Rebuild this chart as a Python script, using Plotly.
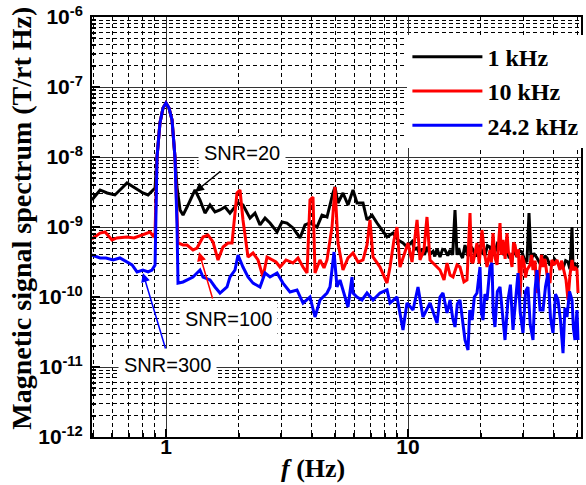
import math
import plotly.graph_objects as go

# ---------------- data ----------------
f_1k = [0.494, 0.534, 0.571, 0.615, 0.658, 0.690, 0.745, 0.803, 0.843, 0.884, 0.901,
        0.918, 0.944, 0.972, 1.0, 1.029, 1.059, 1.089, 1.110, 1.143, 1.176, 1.233, 1.318,
        1.382, 1.449, 1.520, 1.594, 1.672, 1.753, 1.838, 1.984, 2.080, 2.224, 2.332, 2.446,
        2.566, 2.690, 2.876, 3.015, 3.162, 3.348, 3.579, 3.753, 3.936, 4.207, 4.412, 4.627,
        4.899, 4.993, 5.137, 5.387, 5.65, 5.926, 6.155, 6.518, 6.770, 7.10, 7.447, 7.810,
        8.190, 8.670, 9.09, 9.535, 9.905,
        10.39, 10.65, 10.90, 11.15, 11.43, 11.7, 11.98, 12.3, 12.69, 12.9, 13.18, 13.56,
        13.9, 14.22, 14.6, 14.92, 15.3, 15.64, 15.94, 16.2, 16.40, 16.8, 17.20, 17.6, 18.04,
        18.3, 18.56, 19.2, 19.84, 20.3, 20.81, 21.3, 21.82, 22.3, 22.88, 23.4, 24.0, 24.8,
        25.65, 26.2, 26.90, 27.5, 28.21, 28.9, 29.58, 30.3, 31.02, 31.62, 32.23, 33.1, 34.13,
        35.1, 36.14, 36.8, 37.54, 38.5, 39.36, 40.3, 41.28, 42.5, 43.71, 44.8, 45.84, 46.7,
        47.61, 48.06, 48.8, 49.44, 50.41]
b_1k = [2.43e-9, 3.38e-9, 3.06e-9, 2.87e-9, 3.61e-9, 4.25e-9, 3.61e-9, 3.06e-9, 2.87e-9,
        3.38e-9, 3.61e-9, 1.0e-8, 3.06e-8, 5.01e-8, 5.91e-8, 5.01e-8, 3.38e-8, 1.0e-8,
        3.73e-9, 1.75e-9, 1.48e-9, 2.06e-9, 3.38e-9, 2.43e-9, 1.58e-9, 2.06e-9, 1.64e-9,
        1.75e-9, 1.93e-9, 1.58e-9, 2.20e-9, 2.06e-9, 1.34e-9, 1.58e-9, 1.07e-9, 1.34e-9,
        1.14e-9, 8.48e-10, 1.18e-9, 1.14e-9, 9.7e-10, 6.97e-10, 1.07e-9, 1.14e-9, 1.0e-9,
        1.48e-9, 1.39e-9, 3.06e-9, 3.73e-9, 2.20e-9, 3.06e-9, 2.06e-9, 3.38e-9, 2.20e-9,
        2.20e-9, 1.26e-9, 1.48e-9, 1.14e-9, 9.06e-10, 7.20e-10, 8.2e-10, 6.52e-10, 5.9e-10,
        5.18e-10,
        6.2e-10, 4.8e-10, 5.0e-10, 4.2e-10, 4.9e-10, 4.0e-10, 5.2e-10, 4.1e-10, 4.5e-10,
        3.8e-10, 4.9e-10, 3.73e-10, 4.8e-10, 4.69e-10, 3.9e-10, 4.69e-10, 4.0e-10, 1.75e-9,
        3.98e-10, 5.0e-10, 4.25e-10, 3.6e-10, 5.53e-10, 4.0e-10, 3.98e-10, 5.2e-10, 4.69e-10,
        3.8e-10, 5.53e-10, 4.2e-10, 3.98e-10, 5.4e-10, 5.18e-10, 3.9e-10, 4.39e-10, 5.8e-10,
        5.53e-10, 4.0e-10, 4.69e-10, 3.6e-10, 3.98e-10, 4.5e-10, 3.73e-10, 4.6e-10, 4.39e-10,
        3.4e-10, 3.16e-10, 1.58e-9, 3.38e-10, 4.2e-10, 3.61e-10, 3.0e-10, 3.16e-10, 3.9e-10,
        3.61e-10, 2.9e-10, 2.87e-10, 3.5e-10, 3.16e-10, 2.7e-10, 2.60e-10, 3.3e-10, 3.16e-10,
        2.5e-10, 1.0e-9, 2.68e-10, 3.1e-10, 2.43e-10, 2.87e-10]

f_10k = [0.494, 0.534, 0.560, 0.598, 0.627, 0.690, 0.738, 0.781, 0.835, 0.859, 0.884,
         0.901, 0.918, 0.944, 0.972, 1.0, 1.029, 1.059, 1.089, 1.121, 1.176, 1.221, 1.293,
         1.343, 1.422, 1.491, 1.564, 1.640, 1.720, 1.804, 1.874, 1.928, 1.965, 2.022, 2.080,
         2.182, 2.289, 2.40, 2.517, 2.615, 2.742, 2.848, 2.959, 3.132, 3.348, 3.512, 3.683,
         3.826, 3.936, 4.050, 4.128, 4.329, 4.497, 4.627, 4.853, 4.993, 5.137, 5.387, 5.65,
         5.926, 6.216, 6.518, 6.770, 6.966, 7.168, 7.662, 8.190, 8.427, 8.75, 9.006, 9.267,
         9.627, 10.0, 10.39, 10.90, 11.21, 11.64, 11.98, 12.33, 12.93, 13.56, 14.09, 14.50,
         14.92, 15.35, 15.94, 16.40, 17.03, 17.53, 18.04, 18.3, 18.56, 18.9, 19.28, 19.7,
         20.22, 20.7, 21.21, 21.82, 22.1, 22.45, 22.9, 23.33, 24.0, 24.3, 24.70, 25.2, 25.65,
         26.0, 26.40, 26.90, 27.3, 27.68, 28.21, 28.6, 29.03, 29.6, 30.16, 30.6, 31.02,
         31.92, 32.4, 32.85, 33.5, 34.13, 35.13, 35.6, 36.14, 36.8, 37.54, 38.62, 39.3, 40.12,
         41.28, 42.47, 43.1, 43.71, 44.98, 45.84, 46.71, 47.61, 48.3, 48.98, 49.93, 50.41]
b_10k = [6.74e-10, 8.2e-10, 8.48e-10, 6.52e-10, 6.97e-10, 7.20e-10, 6.97e-10, 7.44e-10,
         8.2e-10, 8.48e-10, 7.44e-10, 8.2e-10, 1.0e-8, 3.06e-8, 5.01e-8, 5.91e-8, 5.01e-8,
         3.38e-8, 1.0e-8, 5.91e-10, 5.53e-10, 5.53e-10, 4.69e-10, 5.01e-10, 7.20e-10,
         7.69e-10, 6.11e-10, 3.38e-10, 5.18e-10, 5.91e-10, 5.91e-10, 1.48e-9, 3.06e-9,
         3.38e-9, 1.26e-9, 3.73e-10, 4.25e-10, 3.38e-10, 1.93e-10, 3.73e-10, 3.38e-10,
         3.16e-10, 2.68e-10, 3.38e-10, 3.06e-10, 3.61e-10, 2.68e-10, 2.20e-10, 2.43e-9,
         2.68e-9, 2.20e-10, 3.38e-10, 2.6e-10, 3.38e-10, 1.0e-9, 3.73e-9, 5.91e-10,
         2.43e-10, 3.61e-10, 4.25e-10, 3.16e-10, 3.38e-10, 5.53e-10, 1.26e-9, 3.73e-10,
         2.68e-10, 1.58e-10, 2.68e-10, 6.52e-10, 1.0e-9, 2.68e-10, 3.98e-10, 5.91e-10,
         3.16e-10, 1.26e-9, 3.38e-10, 4.69e-10, 1.39e-9, 3.38e-10, 2.87e-10, 2.43e-10,
         1.75e-10, 3.06e-10, 2.06e-10, 1.93e-10, 2.87e-10, 2.68e-10, 1.64e-10, 1.75e-10,
         1.58e-9, 3.2e-10, 3.06e-10, 4.5e-10, 5.91e-10, 3.0e-10, 9.06e-10, 4.2e-10, 2.68e-10,
         4.69e-10, 3.1e-10, 8.2e-10, 3.6e-10, 2.87e-10, 1.14e-9, 4.0e-10, 6.52e-10, 3.5e-10,
         8.2e-10, 4.4e-10, 3.98e-10, 2.68e-10, 6.0e-10, 5.53e-10, 3.73e-10, 4.8e-10, 1.0e-10,
         3.9e-10, 3.16e-10, 1.9e-10, 2.43e-10, 2.87e-10, 4.0e-10, 2.43e-10, 3.3e-10,
         1.14e-10, 3.16e-10, 4.0e-10, 2.68e-10, 3.5e-10, 2.06e-10, 1.58e-10, 3.4e-10,
         2.87e-10, 3.38e-10, 2.43e-10, 3.3e-10, 2.68e-10, 1.75e-10, 9.06e-11, 2.06e-10,
         3.38e-10, 2.4e-10, 2.68e-10, 2.43e-10, 1.14e-10]

f_24k = [0.494, 0.534, 0.565, 0.604, 0.645, 0.690, 0.724, 0.759, 0.803, 0.843, 0.875,
         0.901, 0.918, 0.944, 0.972, 1.0, 1.029, 1.059, 1.089, 1.110, 1.121, 1.176, 1.221,
         1.293, 1.343, 1.382, 1.422, 1.520, 1.594, 1.672, 1.787, 1.838, 1.928, 1.984, 2.080,
         2.182, 2.289, 2.446, 2.566, 2.690, 2.876, 3.044, 3.253, 3.478, 3.683, 3.936, 4.128,
         4.329, 4.627, 4.761, 4.946, 5.089, 5.236, 5.387, 5.65, 5.870, 5.926, 6.155, 6.454,
         6.770, 7.168, 7.662, 8.190, 8.427, 9.006, 9.535, 9.905, 10.49, 11.0, 11.53, 12.33,
         13.18, 13.56, 13.95, 14.50, 14.92, 15.3, 15.64, 16.0, 16.40, 16.8, 17.20, 17.70,
         18.0, 18.39, 18.8, 19.28, 19.84, 20.1, 20.41, 20.8, 21.21, 21.82, 22.24, 22.5, 22.88,
         23.4, 24.0, 24.6, 25.17, 25.89, 26.5, 27.16, 27.8, 28.48, 29.1, 29.87, 30.6, 31.32,
         32.0, 32.85, 33.5, 34.13, 35.13, 36.14, 37.0, 37.89, 38.8, 39.74, 40.7, 41.67, 42.7,
         43.71, 44.5, 45.40, 46.5, 47.61, 48.3, 48.98, 49.93, 50.41]
b_24k = [3.98e-10, 3.61e-10, 3.61e-10, 3.38e-10, 3.61e-10, 3.16e-10, 2.87e-10, 2.28e-10,
         2.43e-10, 2.28e-10, 2.43e-10, 2.87e-10, 1.0e-8, 3.06e-8, 5.01e-8, 5.91e-8, 5.01e-8,
         3.38e-8, 1.0e-8, 1.14e-9, 1.58e-10, 1.64e-10, 1.75e-10, 1.93e-10, 2.20e-10,
         2.43e-10, 1.93e-10, 1.75e-10, 1.39e-10, 1.14e-10, 1.39e-10, 1.93e-10, 2.43e-10,
         3.98e-10, 2.68e-10, 1.93e-10, 1.58e-10, 1.39e-10, 2.20e-10, 1.93e-10, 2.20e-10,
         1.58e-10, 1.18e-10, 1.26e-10, 8.2e-11, 1.0e-10, 5.18e-11, 9.06e-11, 1.14e-10,
         1.39e-10, 4.39e-10, 1.39e-10, 1.75e-10, 1.26e-10, 7.2e-11, 1.93e-10, 1.14e-10,
         1.0e-10, 9.06e-11, 1.14e-10, 9.06e-11, 1.14e-10, 1.26e-10, 8.2e-11, 1.0e-10,
         3.38e-11, 8.2e-11, 6.52e-11, 1.39e-10, 5.18e-11, 8.2e-11, 4.25e-11, 1.0e-10,
         1.14e-10, 5.91e-11, 9.06e-11, 5.0e-11, 3.73e-11, 8.0e-11, 9.06e-11, 4.5e-11,
         2.43e-11, 1.75e-11, 6.5e-11, 4.69e-11, 1.0e-10, 1.14e-10, 2.68e-10, 6.0e-11,
         4.69e-11, 1.1e-10, 9.06e-11, 2.68e-10, 3.06e-10, 6.0e-11, 3.73e-11, 1.2e-10,
         1.39e-10, 5.5e-11, 2.43e-11, 9.06e-11, 1.5e-10, 3.38e-11, 8.5e-11, 2.20e-10,
         6.0e-11, 3.06e-11, 1.2e-10, 1.39e-10, 4.0e-11, 2.43e-11, 1.3e-10, 2.43e-10,
         6.52e-11, 6.52e-11, 1.4e-10, 2.20e-10, 5.0e-11, 3.06e-11, 1.1e-10, 9.06e-11,
         4.5e-11, 1.58e-11, 7.0e-11, 5.18e-11, 1.2e-10, 9.06e-11, 3.5e-11, 2.43e-11,
         6.52e-11, 2.43e-11]

series_names = ["1 kHz", "10 kHz", "24.2 kHz"]
series_colors = ["#000000", "#ff0000", "#0000ff"]

x_tick_vals = [1, 10]
x_tick_text = ["1", "10"]
x_minor_vals = [0.5, 0.6, 0.7, 0.8, 0.9, 2, 3, 4, 5, 6, 7, 8, 9, 20, 30, 40, 50]
y_tick_vals = [1e-12, 1e-11, 1e-10, 1e-9, 1e-8, 1e-7, 1e-6]
y_tick_text = ["10<sup>-12</sup>", "10<sup>-11</sup>", "10<sup>-10</sup>", "10<sup>-9</sup>",
               "10<sup>-8</sup>", "10<sup>-7</sup>", "10<sup>-6</sup>"]
y_minor_vals = [m * 10.0 ** e for e in range(-12, -6) for m in range(2, 10)]

# ---------------- figure ----------------
fig = go.Figure()
for fx, by, name, col in [(f_1k, b_1k, series_names[0], series_colors[0]),
                          (f_10k, b_10k, series_names[1], series_colors[1]),
                          (f_24k, b_24k, series_names[2], series_colors[2])]:
    fig.add_trace(go.Scatter(x=fx, y=by, mode="lines", name=name,
                             line=dict(color=col, width=3)))

tick_font = dict(family="Liberation Sans, Arial", size=21, color="black", weight="bold")
axis_common = dict(
    type="log", showline=True, linecolor="black", linewidth=2, mirror=True,
    ticks="inside", ticklen=8, tickwidth=2, tickcolor="black", automargin=False,
    showgrid=True, gridcolor="#333333", gridwidth=1, zeroline=False,
    tickfont=tick_font,
)

fig.update_xaxes(
    **axis_common, range=[-0.3058, 1.7149], tickmode="array",
    tickvals=x_tick_vals, ticktext=x_tick_text, ticklabelstandoff=-10,
    minor=dict(tickmode="array", tickvals=x_minor_vals, showgrid=True,
               griddash="4px,3px", gridcolor="black", gridwidth=1,
               ticks="inside", ticklen=4, tickcolor="black"),
)
fig.update_yaxes(
    **axis_common, range=[-12, -6], tickmode="array",
    tickvals=y_tick_vals, ticktext=y_tick_text, ticklabelstandoff=3,
    minor=dict(tickmode="array", tickvals=y_minor_vals, showgrid=True,
               griddash="4px,3px", gridcolor="black", gridwidth=1,
               ticks="inside", ticklen=4, tickcolor="black"),
)

ann_font = dict(family="Liberation Sans, Arial", size=20, color="black")
L = math.log10
annotations = [
    # axis titles
    dict(text="Magnetic signal spectrum (T/rt Hz)", xref="paper", yref="paper",
         x=-0.143, y=0.52, textangle=-90, showarrow=False, xanchor="center", yanchor="middle",
         font=dict(family="Liberation Serif, Times New Roman", size=28, color="black", weight="bold")),
    dict(text="<i>f</i> (Hz)", xref="paper", yref="paper", x=0.452, y=-0.074,
         showarrow=False, xanchor="center", yanchor="middle",
         font=dict(family="Liberation Serif, Times New Roman", size=26, color="black", weight="bold")),
    # SNR labels
    dict(text="SNR=20", x=L(2.06), y=L(1.14e-8), showarrow=False, bgcolor="white",
         borderpad=5, font=ann_font),
    dict(text="SNR=100", x=L(1.804), y=L(4.85e-11), showarrow=False, bgcolor="white",
         borderpad=5, font=ann_font),
    dict(text="SNR=300", x=L(1.019), y=L(1.07e-11), showarrow=False, bgcolor="white",
         borderpad=5, font=ann_font),
    # arrows
    dict(text="", x=L(1.318), y=L(3.16e-9), ax=27, ay=-22, showarrow=True,
         arrowhead=2, arrowsize=1.2, arrowwidth=1.5, arrowcolor="black"),
    dict(text="", x=L(1.369), y=L(4.39e-10), ax=14, ay=48, showarrow=True,
         arrowhead=2, arrowsize=1.2, arrowwidth=1.5, arrowcolor="#ff0000"),
    dict(text="", x=L(0.803), y=L(2.2e-10), ax=23, ay=77, showarrow=True,
         arrowhead=2, arrowsize=1.2, arrowwidth=1.5, arrowcolor="#0000ff"),
]

fig.update_layout(
    width=586, height=485,
    margin=dict(l=92, r=5, t=17, b=48, autoexpand=False),
    paper_bgcolor="white", plot_bgcolor="white",
    showlegend=True,
    legend=dict(x=0.645, y=0.958, xanchor="left", yanchor="top", bgcolor="white",
                borderwidth=0, itemwidth=70,
                font=dict(family="Liberation Serif, Times New Roman", size=24,
                          color="black", weight="bold")),
    annotations=annotations,
)

fig.write_html("out.html", config={"displayModeBar": False},
               post_script="document.body.style.margin='0px';")
